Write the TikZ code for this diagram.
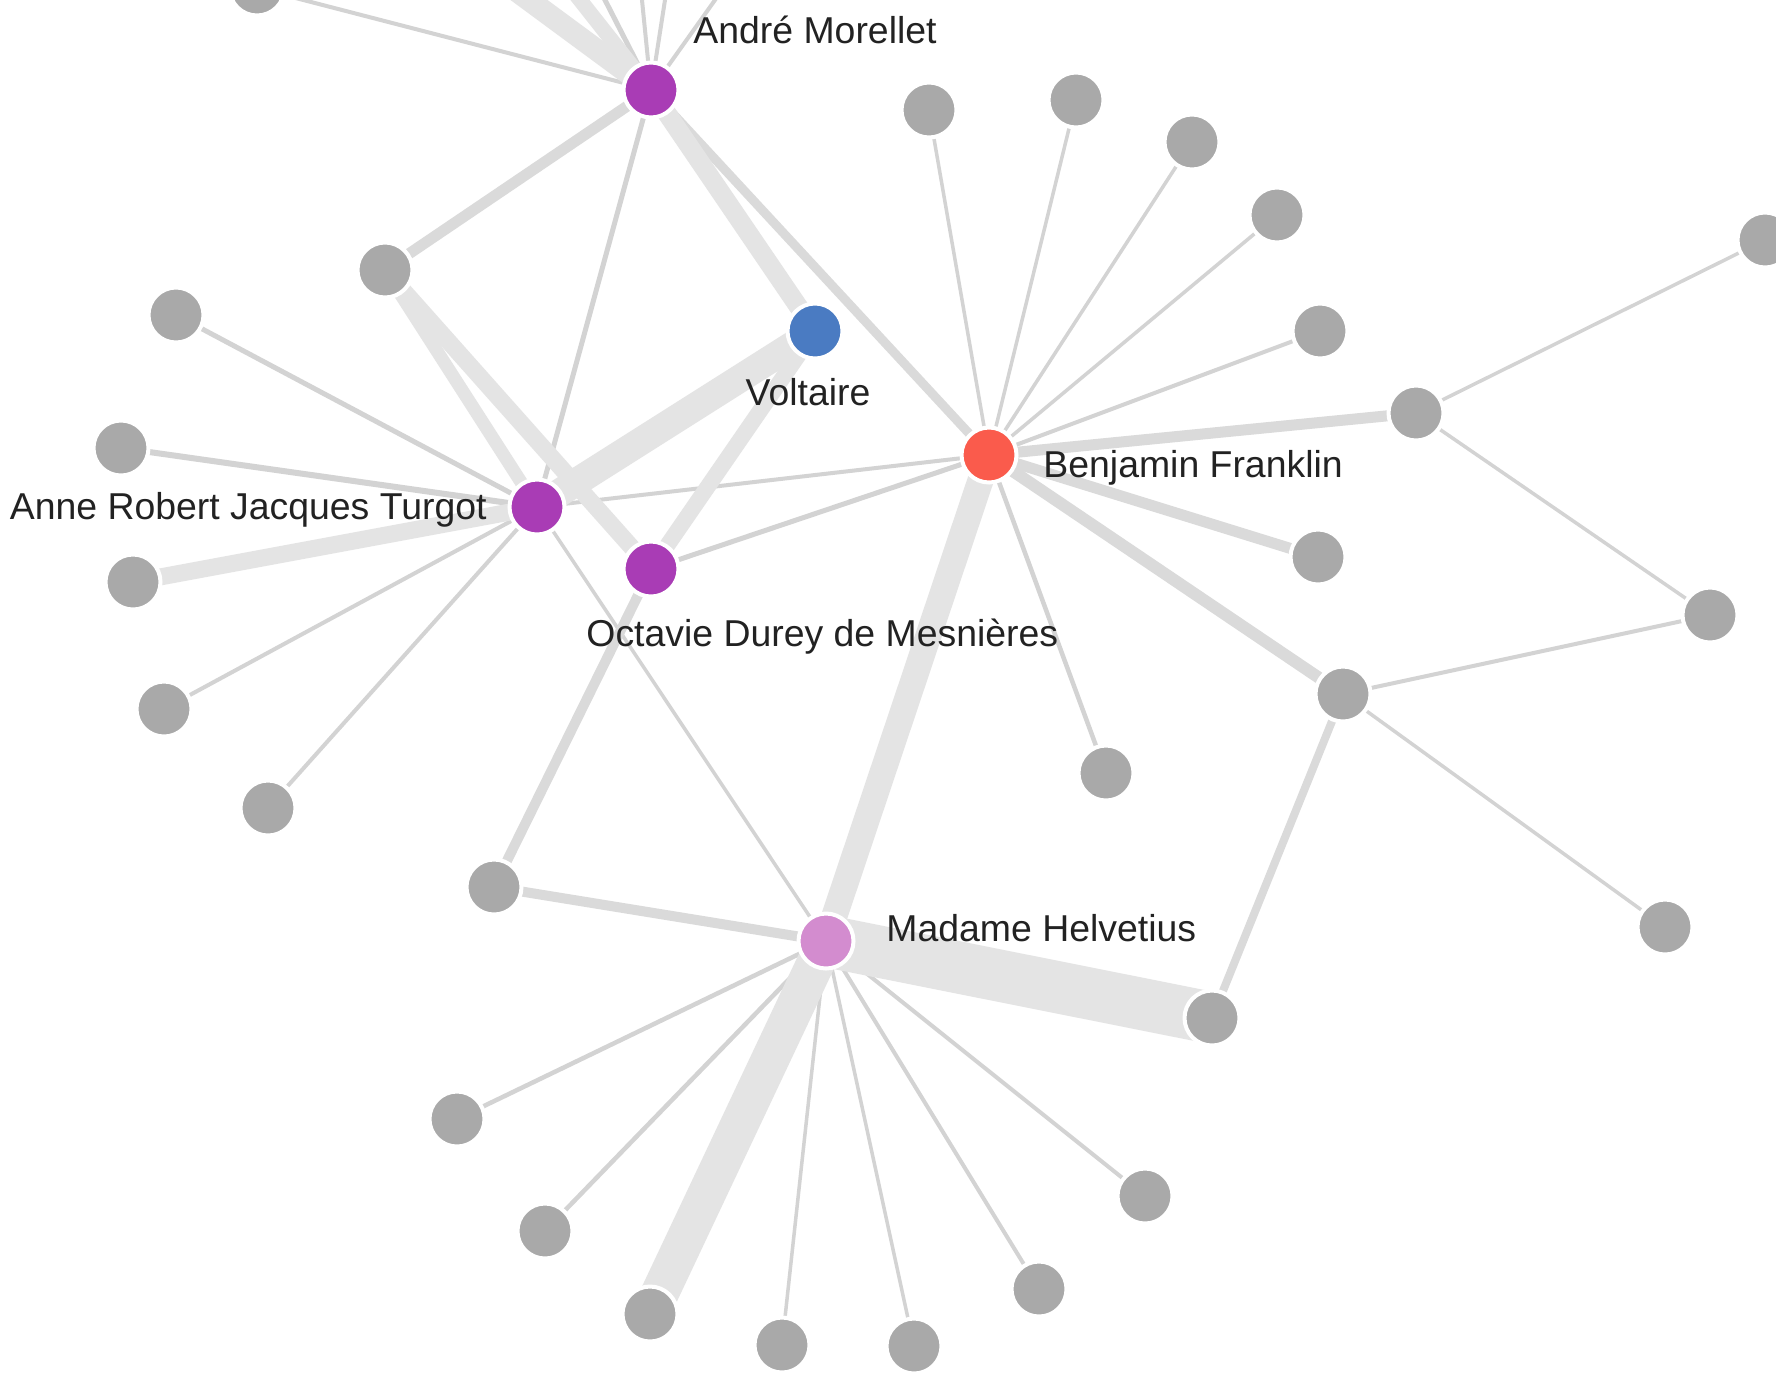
\documentclass[tikz,border=0pt]{standalone}
\usepackage{fontspec}
\setmainfont{Liberation Sans}

\definecolor{nodegray}{HTML}{A9A9A9}
\definecolor{turgotpurple}{HTML}{A93CB5}
\definecolor{voltaireblue}{HTML}{4A7BC2}
\definecolor{franklinred}{HTML}{FA5B4C}
\definecolor{helvetiuspink}{HTML}{D38CCF}
\definecolor{edgelight}{HTML}{E4E4E4}
\definecolor{edgemid}{HTML}{DADADA}
\definecolor{edgedark}{HTML}{D3D3D3}
\definecolor{labelink}{HTML}{222222}

\pgfdeclarelayer{paper}
\pgfdeclarelayer{links}
\pgfsetlayers{paper,links,main}

\tikzset{
  person/.style={circle, draw=white, line width=2pt, minimum size=27.5pt,
                 inner sep=0pt, fill=nodegray},
  thinlink/.style={draw=edgedark, line width=0.5pt*#1},
  midlink/.style={draw=edgemid, line width=0.5pt*#1},
  heavylink/.style={draw=edgelight, line width=0.5pt*#1},
  lbl/.style={font=\fontsize{18.7}{22}\selectfont, text=labelink, inner sep=0pt}
}

\begin{document}
\begin{tikzpicture}[x=0.5pt, y=-0.5pt]
\useasboundingbox (0,0) rectangle (1776,1372);
\begin{pgfonlayer}{paper}
  \fill[white] (0,0) rectangle (1776,1372);
\end{pgfonlayer}

% ---- people (coordinates in pixels, y downwards) ----
\node[person, fill=turgotpurple]  (morellet)  at (651,90)  {};
\node[person, fill=voltaireblue]  (voltaire)  at (815,331) {};
\node[person, fill=franklinred]   (franklin)  at (989,455) {};
\node[person, fill=turgotpurple]  (turgot)    at (537,507) {};
\node[person, fill=turgotpurple]  (octavie)   at (651,569) {};
\node[person, fill=helvetiuspink] (helvetius) at (826,941) {};

\node[person] (p0)  at (257,-12) {};
\node[person] (p1)  at (929,110) {};
\node[person] (p2)  at (1076,100) {};
\node[person] (p3)  at (1192,142) {};
\node[person] (p4)  at (1277,215) {};
\node[person] (p5)  at (1320,331) {};
\node[person] (p6)  at (1765,240) {};
\node[person] (p7)  at (1416,413) {};
\node[person] (p8)  at (1318,557) {};
\node[person] (p9)  at (1710,615) {};
\node[person] (p10) at (1343,694) {};
\node[person] (p11) at (1106,773) {};
\node[person] (p12) at (1665,927) {};
\node[person] (p13) at (385,270) {};
\node[person] (p14) at (176,315) {};
\node[person] (p15) at (121,448) {};
\node[person] (p16) at (133,582) {};
\node[person] (p17) at (164,709) {};
\node[person] (p18) at (268,808) {};
\node[person] (p19) at (494,887) {};
\node[person] (p20) at (1212,1018) {};
\node[person] (p21) at (457,1119) {};
\node[person] (p22) at (545,1231) {};
\node[person] (p23) at (650,1314) {};
\node[person] (p24) at (782,1345) {};
\node[person] (p25) at (914,1346) {};
\node[person] (p26) at (1039,1289) {};
\node[person] (p27) at (1145,1196) {};

% links leaving the top edge
\coordinate (up1) at (407,-90);
\coordinate (up2) at (509,-90);
\coordinate (up3) at (559,-90);
\coordinate (up4) at (633,-90);
\coordinate (up5) at (679,-90);
\coordinate (up6) at (779,-90);

% ---- names ----
\node[lbl, anchor=base west] (morelletname)  at (693,43)   {André Morellet};
\node[lbl, anchor=base]      (voltairename)  at (808,405)  {Voltaire};
\node[lbl, anchor=base west] (franklinname)  at (1043,477) {Benjamin Franklin};
\node[lbl, anchor=base east] (turgotname)    at (487,519)  {Anne Robert Jacques Turgot};
\node[lbl, anchor=base west] (octaviename)   at (586,646)  {Octavie Durey de Mesnières};
\node[lbl, anchor=base west] (helvetiusname) at (886,941)  {Madame Helvetius};

% ---- links ----
\begin{pgfonlayer}{links}
  % light ties
  \draw[thinlink=5] (morellet.center) -- (turgot.center);
  \draw[thinlink=4] (morellet.center) -- (p0.center);
  \draw[thinlink=5] (morellet.center) -- (up3);
  \draw[thinlink=4] (morellet.center) -- (up4);
  \draw[thinlink=4] (morellet.center) -- (up5);
  \draw[thinlink=4] (morellet.center) -- (up6);
  \draw[thinlink=4] (turgot.center) -- (franklin.center);
  \draw[thinlink=5] (octavie.center) -- (franklin.center);
  \draw[thinlink=5] (turgot.center) -- (p14.center);
  \draw[thinlink=6] (turgot.center) -- (p15.center);
  \draw[thinlink=4] (turgot.center) -- (p17.center);
  \draw[thinlink=4] (turgot.center) -- (p18.center);
  \draw[thinlink=3.5] (turgot.center) -- (helvetius.center);
  \draw[thinlink=3.5] (franklin.center) -- (p1.center);
  \draw[thinlink=3.5] (franklin.center) -- (p2.center);
  \draw[thinlink=3.5] (franklin.center) -- (p3.center);
  \draw[thinlink=3.5] (franklin.center) -- (p4.center);
  \draw[thinlink=4] (franklin.center) -- (p5.center);
  \draw[thinlink=4.5] (franklin.center) -- (p11.center);
  \draw[thinlink=3.5] (p7.center) -- (p6.center);
  \draw[thinlink=3.5] (p7.center) -- (p9.center);
  \draw[thinlink=4] (p10.center) -- (p9.center);
  \draw[thinlink=3.5] (p10.center) -- (p12.center);
  \draw[thinlink=4.5] (helvetius.center) -- (p21.center);
  \draw[thinlink=4.5] (helvetius.center) -- (p22.center);
  \draw[thinlink=3.5] (helvetius.center) -- (p24.center);
  \draw[thinlink=3.5] (helvetius.center) -- (p25.center);
  \draw[thinlink=4] (helvetius.center) -- (p26.center);
  \draw[thinlink=4] (helvetius.center) -- (p27.center);
  % middle ties
  \draw[midlink=12] (franklin.center) -- (p10.center);
  \draw[midlink=11] (franklin.center) -- (p7.center);
  \draw[midlink=11] (franklin.center) -- (p8.center);
  \draw[midlink=11] (morellet.center) -- (p13.center);
  \draw[midlink=10] (octavie.center) -- (p19.center);
  \draw[midlink=10] (p19.center) -- (helvetius.center);
  \draw[midlink=9]  (morellet.center) -- (franklin.center);
  \draw[midlink=8]  (p10.center) -- (p20.center);
  % heavy ties
  \draw[heavylink=52] (helvetius.center) -- (p20.center);
  \draw[heavylink=38] (helvetius.center) -- (p23.center);
  \draw[heavylink=26] (franklin.center) -- (helvetius.center);
  \draw[heavylink=28] (turgot.center) -- (voltaire.center);
  \draw[heavylink=22] (morellet.center) -- (up1);
  \draw[heavylink=15] (morellet.center) -- (up2);
  \draw[heavylink=19] (morellet.center) -- (voltaire.center);
  \draw[heavylink=17] (turgot.center) -- (p16.center);
  \draw[heavylink=17] (p13.center) -- (octavie.center);
  \draw[heavylink=13] (p13.center) -- (turgot.center);
  \draw[heavylink=16] (octavie.center) -- (voltaire.center);
\end{pgfonlayer}
\end{tikzpicture}
\end{document}
